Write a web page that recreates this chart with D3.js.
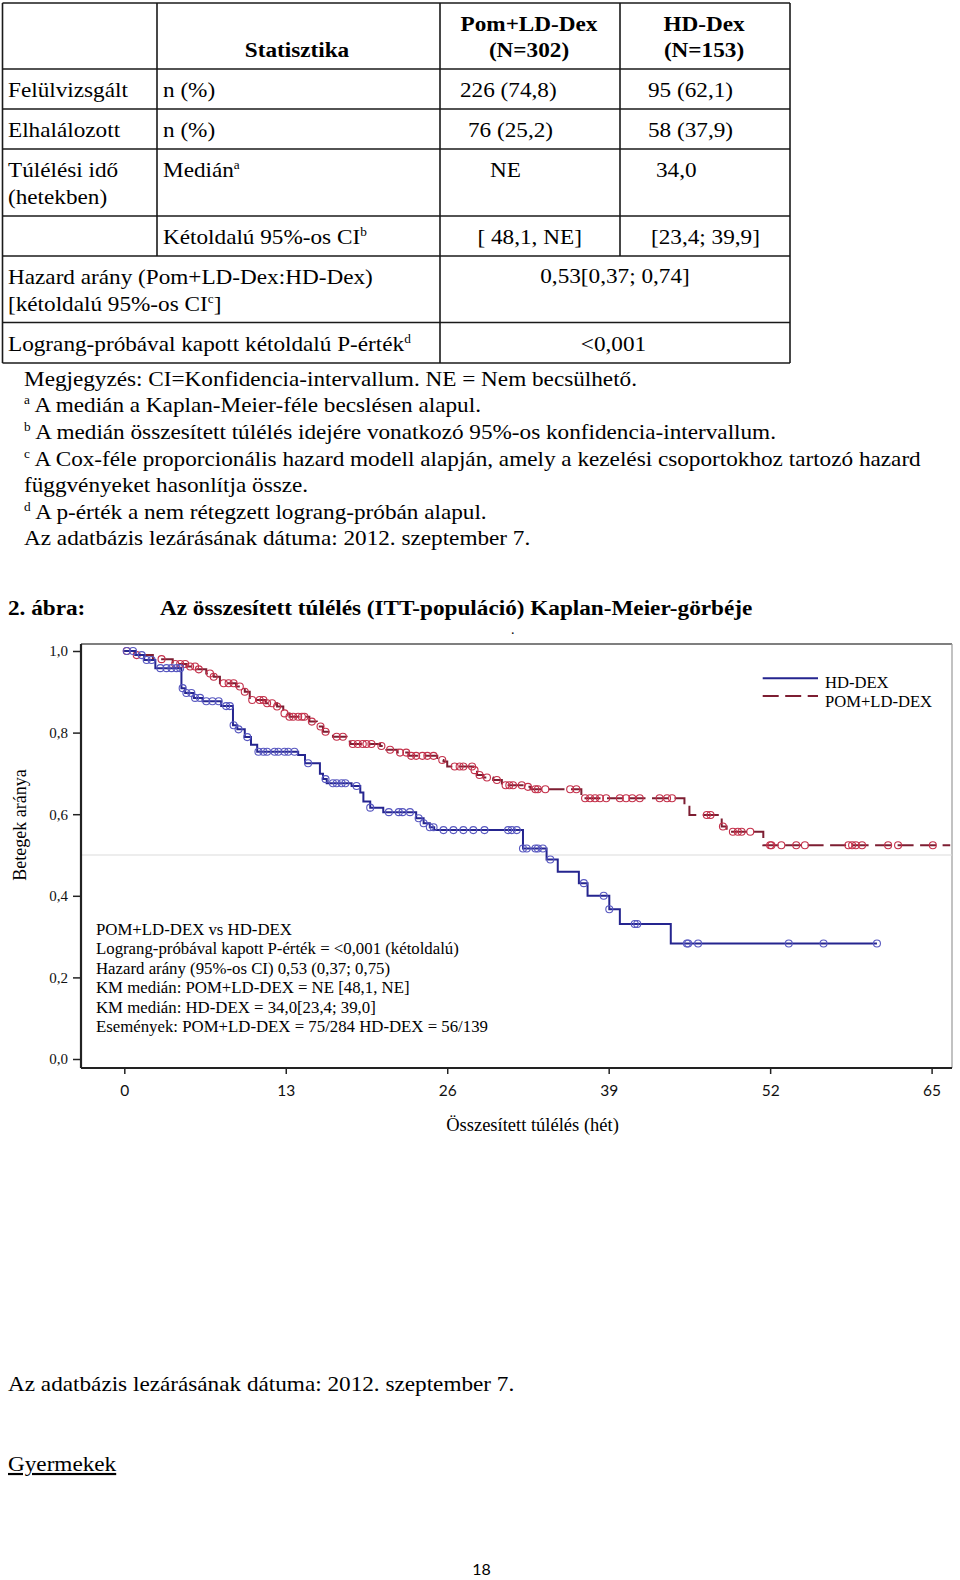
<!DOCTYPE html>
<html><head><meta charset="utf-8">
<script src="https://cdn.jsdelivr.net/npm/d3@7"></script>
<style>body{margin:0;background:#fff}svg{display:block}</style>
</head><body>
<svg id="c" width="960" height="1580"></svg>
<script>
// ---------------- DATA ----------------
const tableHeader = ["Statisztika", "Pom+LD-Dex", "(N=302)", "HD-Dex", "(N=153)"];
const rowLabels = ["Felülvizsgált", "Elhalálozott", "Túlélési idő", "(hetekben)"];
const statLabels = ["n (%)", "n (%)", "Medián", "Kétoldalú 95%-os CI"];
const pomValues = ["226 (74,8)", "76 (25,2)", "NE", "[ 48,1, NE]"];
const hdValues = ["95 (62,1)", "58 (37,9)", "34,0", "[23,4; 39,9]"];
const hazardLabel = ["Hazard arány (Pom+LD-Dex:HD-Dex)", "[kétoldalú 95%-os CI", "]"];
const hazardValue = "0,53[0,37; 0,74]";
const pLabel = "Lograng-próbával kapott kétoldalú P-érték";
const pValue = "<0,001";
const footnotes = [
  ["", "Megjegyzés: CI=Konfidencia-intervallum. NE = Nem becsülhető."],
  ["a", " A medián a Kaplan-Meier-féle becslésen alapul."],
  ["b", " A medián összesített túlélés idejére vonatkozó 95%-os konfidencia-intervallum."],
  ["c", " A Cox-féle proporcionális hazard modell alapján, amely a kezelési csoportokhoz tartozó hazard"],
  ["", "függvényeket hasonlítja össze."],
  ["d", " A p-érték a nem rétegzett lograng-próbán alapul."],
  ["", "Az adatbázis lezárásának dátuma: 2012. szeptember 7."]
];
const figLabel = "2. ábra:";
const figTitle = "Az összesített túlélés (ITT-populáció) Kaplan-Meier-görbéje";

const seriesNames = ["HD-DEX", "POM+LD-DEX"];
// KM step functions: [week, survival proportion after the drop]
const hdSteps = [[0,1.0],[0.9,0.990],[1.6,0.978],[2.5,0.958],[4.6,0.909],[4.9,0.897],[5.6,0.885],[6.3,0.877],
  [7.8,0.865],[8.75,0.818],[9.1,0.808],[9.7,0.789],[10.2,0.770],[10.7,0.753],[14.0,0.745],[14.55,0.725],
  [15.75,0.699],[16.0,0.686],[16.3,0.676],[18.3,0.669],[19.0,0.653],[19.25,0.631],[19.8,0.616],[20.85,0.605],
  [23.5,0.590],[24.1,0.578],[24.6,0.568],[24.95,0.561],[32.1,0.516],[34.0,0.489],[34.9,0.459],[36.6,0.431],
  [37.3,0.400],[39.05,0.367],[39.9,0.331],[44.0,0.283]];
const hdEnd = 60.6;
const hdCensor = [0.2,0.7,1.4,1.8,2.2,2.9,3.4,3.8,4.2,4.5,4.7,5.0,5.4,5.7,6.1,6.6,7.1,7.6,8.2,8.5,8.8,9.2,9.9,
  10.8,11.2,11.5,12.1,12.4,12.9,13.2,13.7,14.8,16.2,16.8,17.1,17.5,17.8,18.7,19.8,21.3,22.1,22.4,23.0,23.7,24.1,
  24.6,24.9,25.7,26.5,27.3,28.1,29.0,30.9,31.2,31.6,32.1,32.4,33.1,33.3,33.7,34.3,37.0,38.6,39.05,41.1,41.3,
  45.3,45.4,46.2,53.5,56.3,60.6];
const pomSteps = [[0,1.0],[0.9,0.990],[2.3,0.980],[3.9,0.968],[5.0,0.962],[5.8,0.955],[6.6,0.945],[7.2,0.937],
  [7.7,0.921],[9.0,0.913],[9.7,0.900],[10.1,0.880],[11.4,0.872],[12.3,0.864],[12.8,0.847],[13.3,0.839],
  [14.9,0.827],[15.5,0.815],[16.0,0.802],[16.8,0.790],[17.9,0.778],[18.2,0.772],[20.6,0.767],[21.1,0.758],
  [22.0,0.751],[22.9,0.743],[25.2,0.733],[25.7,0.729],[26.0,0.717],[28.1,0.708],[28.4,0.696],[28.9,0.690],
  [29.7,0.684],[30.4,0.671],[32.3,0.667],[32.7,0.661],[36.8,0.639],[45.1,0.618],[45.5,0.598],[48.1,0.570],
  [48.5,0.557],[51.45,0.524]];
const pomEnd = 66.5;
const pomCensor = [0.2,1.0,3.0,4.1,4.5,4.9,5.3,5.7,6.0,6.9,7.2,8.0,8.4,8.8,9.3,9.7,10.3,10.9,11.2,11.5,11.9,12.3,
  12.9,13.3,13.6,14.0,14.3,14.5,15.1,15.8,16.2,17.1,17.6,18.4,18.8,19.2,19.5,19.9,20.7,21.4,22.2,22.7,23.1,23.5,
  24.0,24.4,24.9,25.6,26.6,27.0,27.3,28.0,28.2,28.6,29.2,30.0,30.7,31.0,31.3,32.0,32.5,33.1,33.3,33.9,35.9,36.4,
  37.1,37.5,37.9,38.3,38.8,39.9,40.4,40.9,41.5,43.1,43.7,44.1,46.9,47.2,48.2,49.0,49.4,49.7,50.4,52.0,52.1,52.9,
  54.1,54.8,58.3,58.6,58.9,59.4,61.5,62.3,65.1];
const xTicks = [0,13,26,39,52,65];
const yTicks = [0,0.2,0.4,0.6,0.8,1.0];
const xTitle = "Összesített túlélés (hét)";
const yTitle = "Betegek aránya";
const annotation = [
  "POM+LD-DEX vs HD-DEX",
  "Lograng-próbával kapott P-érték = <0,001 (kétoldalú)",
  "Hazard arány (95%-os CI) 0,53 (0,37; 0,75)",
  "KM medián: POM+LD-DEX = NE [48,1, NE]",
  "KM medián: HD-DEX = 34,0[23,4; 39,0]",
  "Események: POM+LD-DEX = 75/284 HD-DEX = 56/139"
];
const footerText = "Az adatbázis lezárásának dátuma: 2012. szeptember 7.";
const sectionText = "Gyermekek";
const pageNumber = "18";

// ---------------- HELPERS ----------------
const svg = d3.select("#c");
const SERIF = "'Liberation Serif','Times New Roman',serif";
const SANS = "Lato,'Liberation Sans',sans-serif";
const DOC_FS = 21.8, DOC_SX = 1.065;

function docText(parent, x, y, opts = {}) {
  const sx = opts.sx ?? DOC_SX;
  return parent.append("text")
    .attr("transform", `translate(${x},${y}) scale(${sx},1)`)
    .attr("font-family", opts.family || SERIF)
    .attr("font-size", opts.size || DOC_FS)
    .attr("font-weight", opts.weight || "normal")
    .attr("text-anchor", opts.anchor || "start")
    .attr("fill", "#000");
}
function withSup(t, main, sup, after) {
  t.append("tspan").text(main);
  t.append("tspan").attr("dy", -8).attr("font-size", 12.5).text(sup);
  t.append("tspan").attr("dy", 8).text(after || "");
}

// ---------------- TABLE ----------------
const tbl = svg.append("g");
const colX = [2.5, 157, 440, 620, 790];
const rowY = [3, 69, 109, 149, 216, 256, 322.5, 363];
const L = (x1, y1, x2, y2) => tbl.append("line").attr("x1", x1).attr("y1", y1).attr("x2", x2).attr("y2", y2)
  .attr("stroke", "#1a1a1a").attr("stroke-width", 1.6);
rowY.forEach(yy => L(colX[0], yy, colX[4], yy));
L(colX[0], rowY[0], colX[0], rowY[7]);
L(colX[1], rowY[0], colX[1], rowY[5]);
L(colX[2], rowY[0], colX[2], rowY[7]);
L(colX[3], rowY[0], colX[3], rowY[5]);
L(colX[4], rowY[0], colX[4], rowY[7]);

docText(tbl, 297, 57, {weight: "bold", anchor: "middle"}).text(tableHeader[0]);
docText(tbl, 529, 31, {weight: "bold", anchor: "middle"}).text(tableHeader[1]);
docText(tbl, 529, 57, {weight: "bold", anchor: "middle"}).text(tableHeader[2]);
docText(tbl, 704, 31, {weight: "bold", anchor: "middle"}).text(tableHeader[3]);
docText(tbl, 704, 57, {weight: "bold", anchor: "middle"}).text(tableHeader[4]);

docText(tbl, 8, 97).text(rowLabels[0]);
docText(tbl, 8, 136.5).text(rowLabels[1]);
docText(tbl, 8, 176.5).text(rowLabels[2]);
docText(tbl, 8, 203.5).text(rowLabels[3]);

docText(tbl, 163, 97).text(statLabels[0]);
docText(tbl, 163, 136.5).text(statLabels[1]);
withSup(docText(tbl, 163, 176.5), statLabels[2], "a");
withSup(docText(tbl, 163, 243.5), statLabels[3], "b");

const pomX = [460, 468, 490, 477.5];
const hdX = [648, 648, 656, 651];
const valY = [97, 136.5, 176.5, 243.5];
pomValues.forEach((v, i) => docText(tbl, pomX[i], valY[i]).text(v));
hdValues.forEach((v, i) => docText(tbl, hdX[i], valY[i]).text(v));

docText(tbl, 8, 283.5).text(hazardLabel[0]);
withSup(docText(tbl, 8, 311), hazardLabel[1], "c", hazardLabel[2]);
docText(tbl, 615, 283, {anchor: "middle"}).text(hazardValue);
withSup(docText(tbl, 8, 351), pLabel, "d");
docText(tbl, 613.5, 351, {anchor: "middle"}).text(pValue);

// ---------------- FOOTNOTES ----------------
const fnY = [385.5, 412, 438.5, 465.5, 492, 518.5, 545];
footnotes.forEach((f, i) => {
  const t = docText(svg, 24, fnY[i]);
  if (f[0]) {
    t.append("tspan").attr("dy", -8).attr("font-size", 12.5).text(f[0]);
    t.append("tspan").attr("dy", 8).text(f[1]);
  } else t.text(f[1]);
});

docText(svg, 8, 615, {weight: "bold"}).text(figLabel);
docText(svg, 160, 615, {weight: "bold"}).text(figTitle);
docText(svg, 511, 634, {size: 14, sx: 1}).text(".");

// ---------------- CHART ----------------
const plotL = 81, plotR = 952, plotT = 644, plotB = 1068;
const x = d3.scaleLinear().domain([0, 65]).range([124.3, 931.6]);
const y = d3.scaleLinear().domain([0, 1]).range([1059, 651]);
const chart = svg.append("g");

// frame
chart.append("line").attr("x1", plotL).attr("x2", plotR).attr("y1", plotT).attr("y2", plotT).attr("stroke", "#555").attr("stroke-width", 1.5);
chart.append("line").attr("x1", plotR).attr("x2", plotR).attr("y1", plotT).attr("y2", plotB).attr("stroke", "#999").attr("stroke-width", 1.2);
// reference line at 0.5
chart.append("line").attr("x1", plotL).attr("x2", plotR).attr("y1", y(0.5)).attr("y2", y(0.5)).attr("stroke", "#dcdcdc").attr("stroke-width", 1.2);

const yAxis = chart.append("g").attr("transform", `translate(${plotL},0)`)
  .call(d3.axisLeft(y).tickValues(yTicks).tickSize(8).tickPadding(5).tickFormat(d => d.toFixed(1).replace(".", ",")));
yAxis.select(".domain").remove();
yAxis.selectAll("line").attr("stroke", "#222").attr("stroke-width", 1.5);
yAxis.selectAll("text").attr("font-family", SERIF).attr("font-size", 15).attr("fill", "#111");
chart.append("line").attr("x1", plotL).attr("x2", plotL).attr("y1", plotT).attr("y2", plotB).attr("stroke", "#222").attr("stroke-width", 2.2);

const xAxis = chart.append("g").attr("transform", `translate(0,${plotB})`)
  .call(d3.axisBottom(x).tickValues(xTicks).tickSize(6).tickPadding(11).tickFormat(d => String(d)));
xAxis.select(".domain").remove();
xAxis.selectAll("line").attr("stroke", "#222").attr("stroke-width", 1.5);
xAxis.selectAll("text").attr("font-family", SANS).attr("font-size", 15.5).attr("fill", "#111");
chart.append("line").attr("x1", plotL).attr("x2", plotR).attr("y1", plotB).attr("y2", plotB).attr("stroke", "#222").attr("stroke-width", 2.2);

chart.append("text").attr("x", 532.5).attr("y", 1131).attr("text-anchor", "middle")
  .attr("font-family", SERIF).attr("font-size", 18.5).text(xTitle);
chart.append("text").attr("transform", "translate(26,825) rotate(-90)").attr("text-anchor", "middle")
  .attr("font-family", SERIF).attr("font-size", 18).text(yTitle);

// KM curves
function survAt(steps, t) { let v = steps[0][1]; for (const [tt, vv] of steps) { if (tt <= t) v = vv; else break; } return v; }
const line = d3.line().x(d => x(d[0])).y(d => y(d[1])).curve(d3.curveStepAfter);
const BLUE = "#25258f", BLUE_C = "#5858c0", RED = "#7d1e32", RED_C = "#c4304a";

const pomPts = pomSteps.concat([[pomEnd, pomSteps[pomSteps.length - 1][1]]]);
chart.append("path").attr("d", line(pomPts)).attr("fill", "none").attr("stroke", RED).attr("stroke-width", 2).attr("stroke-dasharray", "16 6.5");
chart.append("g").selectAll("circle").data(pomCensor).join("circle")
  .attr("cx", d => x(d)).attr("cy", d => y(survAt(pomSteps, d))).attr("r", 3.5)
  .attr("fill", "none").attr("stroke", RED_C).attr("stroke-width", 1.1);

const hdPts = hdSteps.concat([[hdEnd, hdSteps[hdSteps.length - 1][1]]]);
chart.append("path").attr("d", line(hdPts)).attr("fill", "none").attr("stroke", BLUE).attr("stroke-width", 2);
chart.append("g").selectAll("circle").data(hdCensor).join("circle")
  .attr("cx", d => x(d)).attr("cy", d => y(survAt(hdSteps, d))).attr("r", 3.5)
  .attr("fill", "none").attr("stroke", BLUE_C).attr("stroke-width", 1.1);

// legend
const lg = chart.append("g");
lg.append("line").attr("x1", 762.7).attr("x2", 818).attr("y1", 678.3).attr("y2", 678.3).attr("stroke", BLUE).attr("stroke-width", 2);
lg.append("line").attr("x1", 762.7).attr("x2", 818).attr("y1", 696).attr("y2", 696).attr("stroke", RED).attr("stroke-width", 2).attr("stroke-dasharray", "16 6.5");
lg.append("text").attr("x", 825).attr("y", 687.5).attr("font-family", SERIF).attr("font-size", 16.6).text(seriesNames[0]);
lg.append("text").attr("x", 825).attr("y", 707).attr("font-family", SERIF).attr("font-size", 16.6).text(seriesNames[1]);

// annotation
annotation.forEach((s, i) => chart.append("text").attr("x", 96).attr("y", 934.5 + i * 19.5)
  .attr("font-family", SERIF).attr("font-size", 16.8).text(s));

// ---------------- FOOTER ----------------
docText(svg, 8, 1391).text(footerText);
docText(svg, 8, 1471).attr("text-decoration", "underline").text(sectionText);
svg.append("text").attr("x", 481.5).attr("y", 1575).attr("text-anchor", "middle")
  .attr("font-family", SANS).attr("font-size", 16).text(pageNumber);
</script>
</body></html>
